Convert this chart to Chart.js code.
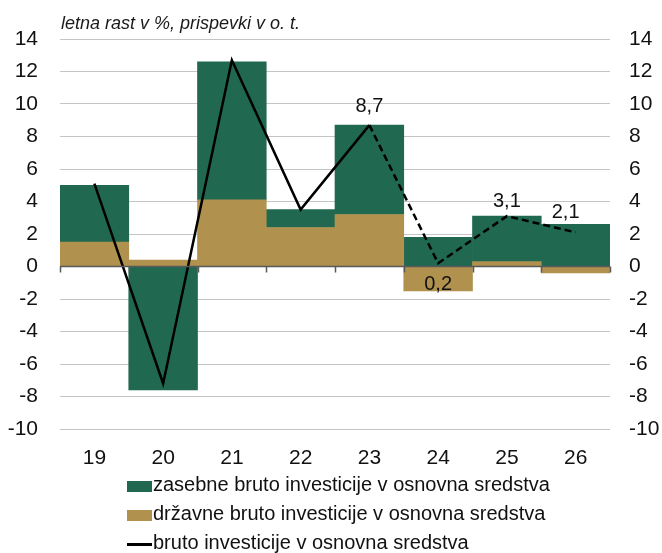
<!DOCTYPE html>
<html>
<head>
<meta charset="utf-8">
<script src="https://cdn.jsdelivr.net/npm/chart.js@4/dist/chart.umd.min.js"></script>
<style>
  body { margin: 0; background: #fff; font-family: 'Liberation Sans', Arial, sans-serif; }
  #wrap { position: relative; width: 662px; height: 553px; overflow: hidden; }
  #chart { position: absolute; left: 0; top: 0; }
  #title { position: absolute; left: 61px; top: 13px; font-size: 18px; font-style: italic; color: #1a1a1a; white-space: nowrap; }
  #legend { position: absolute; left: 127px; top: 470px; font-size: 20px; color: #111; }
  .item { height: 29px; line-height: 29px; display: flex; align-items: center; white-space: nowrap; }
  .sw { width: 25px; height: 11px; margin-right: 1px; position: relative; top: 2px; }
  .ln { width: 25px; height: 3px; background: #000; margin-right: 1px; position: relative; top: 2px; }
</style>
</head>
<body>
<div id="wrap">
  <canvas id="chart" width="662" height="475"></canvas>
  <div id="title">letna rast v %, prispevki v o. t.</div>
  <div id="legend"></div>
</div>
<script>
// leta
const leta = ['19', '20', '21', '22', '23', '24', '25', '26'];
// prispevki v o. t.
const zasebne = [3.5, -7.6, 8.5, 1.1, 5.5, 1.8, 2.8, 2.6];
const drzavne = [1.5, 0.4, 4.1, 2.4, 3.2, -1.5, 0.3, -0.4];
// letna rast v %
const skupaj = [5.1, -7.2, 12.7, 3.5, 8.7, 0.2, 3.1, 2.1];

const imeZasebne = 'zasebne bruto investicije v osnovna sredstva';
const imeDrzavne = 'državne bruto investicije v osnovna sredstva';
const imeSkupaj = 'bruto investicije v osnovna sredstva';

const zelena = '#216850';
const rjava = '#b0924e';
const pisava = "'Liberation Sans', Arial, sans-serif";

// prva napoved (od 23 naprej crtkano)
const zacetekNapovedi = 4;

// os pri nicli in crtice med kategorijami
const nicelnaOs = {
  id: 'nicelnaOs',
  afterDatasetsDraw(chart) {
    const ctx = chart.ctx;
    const x = chart.scales.x;
    const y0 = chart.scales.y.getPixelForValue(0);
    const w = x.getPixelForValue(1) - x.getPixelForValue(0);
    ctx.save();
    ctx.strokeStyle = '#595959';
    ctx.lineWidth = 1.5;
    ctx.beginPath();
    ctx.moveTo(x.left, y0);
    ctx.lineTo(x.right, y0);
    for (let i = 0; i <= leta.length; i++) {
      const px = Math.round(x.left + i * w) + 0.5;
      ctx.moveTo(px, y0);
      ctx.lineTo(px, y0 + 6);
    }
    ctx.stroke();
    ctx.restore();
  }
};

// oznake vrednosti na crti
const oznake = {
  id: 'oznake',
  afterDraw(chart) {
    const ctx = chart.ctx;
    const meta = chart.getDatasetMeta(2);
    ctx.save();
    ctx.font = '20px ' + pisava;
    ctx.fillStyle = '#111';
    ctx.textAlign = 'center';
    ctx.textBaseline = 'middle';
    for (let i = zacetekNapovedi; i < skupaj.length; i++) {
      const p = meta.data[i];
      const txt = skupaj[i].toFixed(1).replace('.', ',');
      let dy = -19;
      let dx = 0;
      if (i === 5) dy = 21;
      if (i === 6) dy = -15;
      if (i === 7) { dy = -20; dx = -10; }
      ctx.fillText(txt, p.x + dx, p.y + dy);
    }
    ctx.restore();
  }
};

new Chart(document.getElementById('chart'), {
  type: 'bar',
  data: {
    labels: leta,
    datasets: [
      {
        label: imeDrzavne,
        data: drzavne,
        backgroundColor: rjava,
        stack: 's',
        order: 1,
        barPercentage: 1,
        categoryPercentage: 1
      },
      {
        label: imeZasebne,
        data: zasebne,
        backgroundColor: zelena,
        stack: 's',
        order: 1,
        barPercentage: 1,
        categoryPercentage: 1
      },
      {
        type: 'line',
        label: imeSkupaj,
        data: skupaj,
        borderColor: '#000',
        borderWidth: 2.5,
        pointRadius: 0,
        fill: false,
        tension: 0,
        order: 0,
        segment: {
          borderDash: c => c.p0DataIndex >= zacetekNapovedi ? [7, 4] : undefined
        }
      }
    ]
  },
  options: {
    responsive: false,
    animation: false,
    layout: { padding: { top: 39, left: 0, right: 0, bottom: 0 } },
    plugins: {
      legend: { display: false },
      tooltip: { enabled: false }
    },
    scales: {
      x: {
        stacked: true,
        grid: { display: false, drawTicks: false },
        border: { display: false },
        ticks: { color: '#111', font: { size: 21, family: pisava }, padding: 17 },
        afterFit: s => { s.height = 46; }
      },
      y: {
        stacked: true,
        position: 'left',
        min: -10,
        max: 14,
        ticks: { stepSize: 2, color: '#111', font: { size: 21, family: pisava }, padding: 22 },
        grid: { color: '#c4c4c4', lineWidth: 1, drawTicks: false },
        border: { display: false },
        afterFit: s => { s.width = 60; }
      },
      y2: {
        position: 'right',
        min: -10,
        max: 14,
        ticks: { stepSize: 2, color: '#111', font: { size: 21, family: pisava }, padding: 19 },
        grid: { display: false, drawTicks: false },
        border: { display: false },
        afterFit: s => { s.width = 52; }
      }
    }
  },
  plugins: [nicelnaOs, oznake]
});

// legenda
const legenda = document.getElementById('legend');
[[imeZasebne, zelena, 'sw'], [imeDrzavne, rjava, 'sw'], [imeSkupaj, '#000', 'ln']].forEach(([ime, barva, vrsta]) => {
  const row = document.createElement('div');
  row.className = 'item';
  const sw = document.createElement('span');
  sw.className = vrsta;
  sw.style.background = barva;
  row.appendChild(sw);
  row.appendChild(document.createTextNode(ime));
  legenda.appendChild(row);
});
</script>
</body>
</html>
